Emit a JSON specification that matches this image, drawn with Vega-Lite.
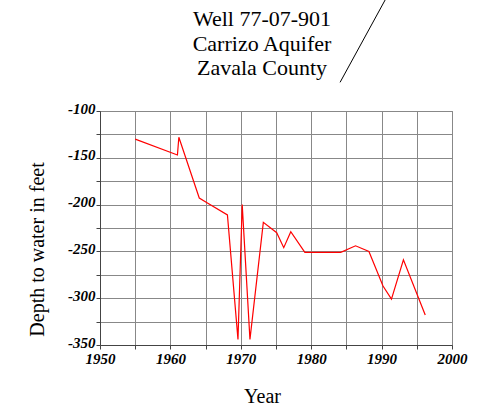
{
  "$schema": "https://vega.github.io/schema/vega-lite/v6.json",
  "width": 352,
  "height": 234,
  "autosize": "none",
  "padding": {"left": 100, "top": 111, "right": 39, "bottom": 67},
  "background": "white",
  "title": {
    "text": ["Well 77-07-901", "Carrizo Aquifer", "Zavala County"],
    "font": "Liberation Serif",
    "fontSize": 22,
    "fontWeight": "normal",
    "color": "black",
    "lineHeight": 24.5,
    "anchor": "middle",
    "dx": -14,
    "offset": -98,
    "baseline": "alphabetic"
  },
  "config": {
    "view": {"stroke": "#777", "strokeWidth": 1},
    "axis": {
      "labelFont": "Liberation Serif",
      "labelFontSize": 15,
      "labelFontWeight": "bold",
      "labelFontStyle": "italic",
      "labelColor": "black",
      "titleFont": "Liberation Serif",
      "titleFontSize": 20,
      "titleFontWeight": "normal",
      "titleColor": "black",
      "gridColor": "#888",
      "gridOpacity": 1,
      "gridWidth": 1,
      "domainColor": "#444",
      "tickColor": "#444",
      "tickSize": 4
    }
  },
  "layer": [
    {
      "data": {
        "values": [
          {"Year": 1955.0, "Depth": -130},
          {"Year": 1961.0, "Depth": -147},
          {"Year": 1961.2, "Depth": -128},
          {"Year": 1964.1, "Depth": -193},
          {"Year": 1965.2, "Depth": -198},
          {"Year": 1968.1, "Depth": -211},
          {"Year": 1969.6, "Depth": -344},
          {"Year": 1970.2, "Depth": -200},
          {"Year": 1971.3, "Depth": -344},
          {"Year": 1973.2, "Depth": -219},
          {"Year": 1975.1, "Depth": -230},
          {"Year": 1976.1, "Depth": -246},
          {"Year": 1977.1, "Depth": -229},
          {"Year": 1979.1, "Depth": -251},
          {"Year": 1984.2, "Depth": -251},
          {"Year": 1986.3, "Depth": -244},
          {"Year": 1988.2, "Depth": -250},
          {"Year": 1990.2, "Depth": -287},
          {"Year": 1991.4, "Depth": -301},
          {"Year": 1993.1, "Depth": -259},
          {"Year": 1996.2, "Depth": -318}
        ]
      },
      "mark": {"type": "line", "color": "#ff0000", "strokeWidth": 1.2},
      "encoding": {
        "x": {
          "field": "Year",
          "type": "quantitative",
          "scale": {"domain": [1950, 2000], "nice": false, "zero": false},
          "axis": {
            "values": [1950, 1955, 1960, 1965, 1970, 1975, 1980, 1985, 1990, 1995, 2000],
            "tickCount": 11,
            "labelExpr": "datum.value % 10 == 0 ? '' + datum.value : ''",
            "labelPadding": 2,
            "labelFlush": false,
            "labelOverlap": false,
            "title": "Year",
            "titleX": 162,
            "titleY": 57,
            "titleAlign": "center",
            "titleBaseline": "alphabetic"
          }
        },
        "y": {
          "field": "Depth",
          "type": "quantitative",
          "scale": {"domain": [-350, -100], "nice": false, "zero": false},
          "axis": {
            "values": [-350, -325, -300, -275, -250, -225, -200, -175, -150, -125, -100],
            "tickCount": 11,
            "labelExpr": "datum.value % 50 == 0 ? '' + datum.value : ''",
            "labelPadding": 1,
            "labelBaseline": "alphabetic",
            "labelOffset": 2,
            "labelFlush": false,
            "labelOverlap": false,
            "title": "Depth to water in feet",
            "titleX": -57,
            "titleY": 138,
            "titleAngle": -90,
            "titleAlign": "center",
            "titleBaseline": "alphabetic"
          }
        }
      }
    },
    {
      "data": {"values": [{"x1": 1984.1, "y1": -69.4, "x2": 1990.5, "y2": 18.6}]},
      "mark": {"type": "rule", "color": "black", "strokeWidth": 1, "clip": false},
      "encoding": {
        "x": {"field": "x1", "type": "quantitative"},
        "y": {"field": "y1", "type": "quantitative"},
        "x2": {"field": "x2"},
        "y2": {"field": "y2"}
      }
    }
  ]
}
